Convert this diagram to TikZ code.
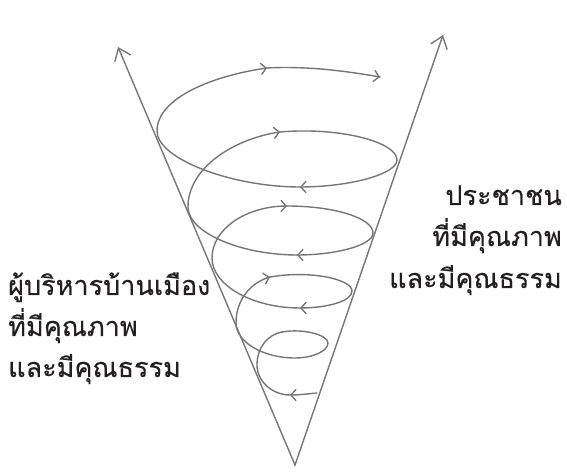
\documentclass[tikz,border=0pt]{standalone}
\usepackage{fontspec}
\newfontfamily\thaifont[Script=Thai,FakeBold=0.3]{Loma}
\usetikzlibrary{arrows.meta,decorations.markings}
\definecolor{penc}{HTML}{767676}
\definecolor{ink}{HTML}{231F20}
\tikzset{
  pencil/.style={draw=penc, line width=1.4pt, line cap=round, line join=round},
  vline/.style={draw=penc, line width=1.4pt,
    {Straight Barb[length=11pt,width=17pt,line cap=round]}-{Straight Barb[length=11pt,width=17pt,line cap=round]}},
  seg/.style={pencil, postaction={decorate},
    decoration={markings, mark=at position 1 with {\arrow[penc,line width=1.4pt]{Straight Barb[length=5pt,width=11pt,line cap=round]}}}},
  lab/.style={inner sep=0pt, text=ink, font=\thaifont\fontsize{27}{27}\selectfont}
}
\begin{document}
\begin{tikzpicture}[x=1pt,y=1pt]
\useasboundingbox (0,0) rectangle (567,473);
% cone
\coordinate (P)  at (295,8);
\coordinate (TL) at (118,426);
\coordinate (TR) at (443,438);
\draw[vline] (TL) -- (P) -- (TR);
% spiral points
\coordinate (S)  at (317,80);
\coordinate (A0) at (290,78);
\coordinate (L1) at (257,108);
\coordinate (A1) at (282,141);
\coordinate (R1) at (328,130);
\coordinate (B1) at (295,115);
\coordinate (L2) at (236,150);
\coordinate (A2) at (270,196);
\coordinate (R2) at (352,182);
\coordinate (A3) at (300,165);
\coordinate (L3) at (212,215);
\coordinate (A4) at (287,267);
\coordinate (R3) at (373,240);
\coordinate (A5) at (297,218);
\coordinate (L4) at (188,266);
\coordinate (A6) at (280,341);
\coordinate (R4) at (397,313);
\coordinate (A7) at (300,286);
\coordinate (L5) at (157,342);
\coordinate (A8) at (267,405);
\coordinate (E)  at (380,396);
% spiral
\draw[seg] (S) .. controls +(185:10) and +(0:10) .. (A0);
\draw[seg] (A0) .. controls +(180:18) and +(270:16) .. (L1)
  .. controls +(90:18) and +(190:14) .. (A1);
\draw[seg] (A1) .. controls +(10:22) and +(90:8) .. (R1)
  .. controls +(270:8) and +(0:18) .. (B1)
  .. controls +(180:32) and +(270:19) .. (L2)
  .. controls +(90:25) and +(195:18) .. (A2);
\draw[seg] (A2) .. controls +(10:40) and +(90:12) .. (R2)
  .. controls +(270:10) and +(0:28) .. (A3);
\draw[seg] (A3) .. controls +(180:48) and +(270:27) .. (L3)
  .. controls +(90:29) and +(180:41) .. (A4);
\draw[seg] (A4) .. controls +(0:47) and +(90:15) .. (R3)
  .. controls +(270:12) and +(0:40) .. (A5);
\draw[seg] (A5) .. controls +(180:55) and +(270:26) .. (L4)
  .. controls +(90:40) and +(188:45) .. (A6);
\draw[seg] (A6) .. controls +(5:60) and +(90:18) .. (R4)
  .. controls +(270:14) and +(0:50) .. (A7);
\draw[seg] (A7) .. controls +(180:68) and +(270:28) .. (L5)
  .. controls +(90:33) and +(188:55) .. (A8);
\draw[seg] (A8) .. controls +(3:40) and +(170:35) .. (E);
% labels
\node[lab, anchor=base east] (r1) at (562,268) {ประชาชน};
\node[lab, anchor=base east] (r2) at (562,227) {ที่มีคุณภาพ};
\node[lab, anchor=base east] (r3) at (562,185) {และมีคุณธรรม};
\node[lab, anchor=base west] (l1) at (8,178) {ผู้บริหารบ้านเมือง};
\node[lab, anchor=base west] (l2) at (8,137) {ที่มีคุณภาพ};
\node[lab, anchor=base west] (l3) at (8,96) {และมีคุณธรรม};
\end{tikzpicture}
\end{document}
